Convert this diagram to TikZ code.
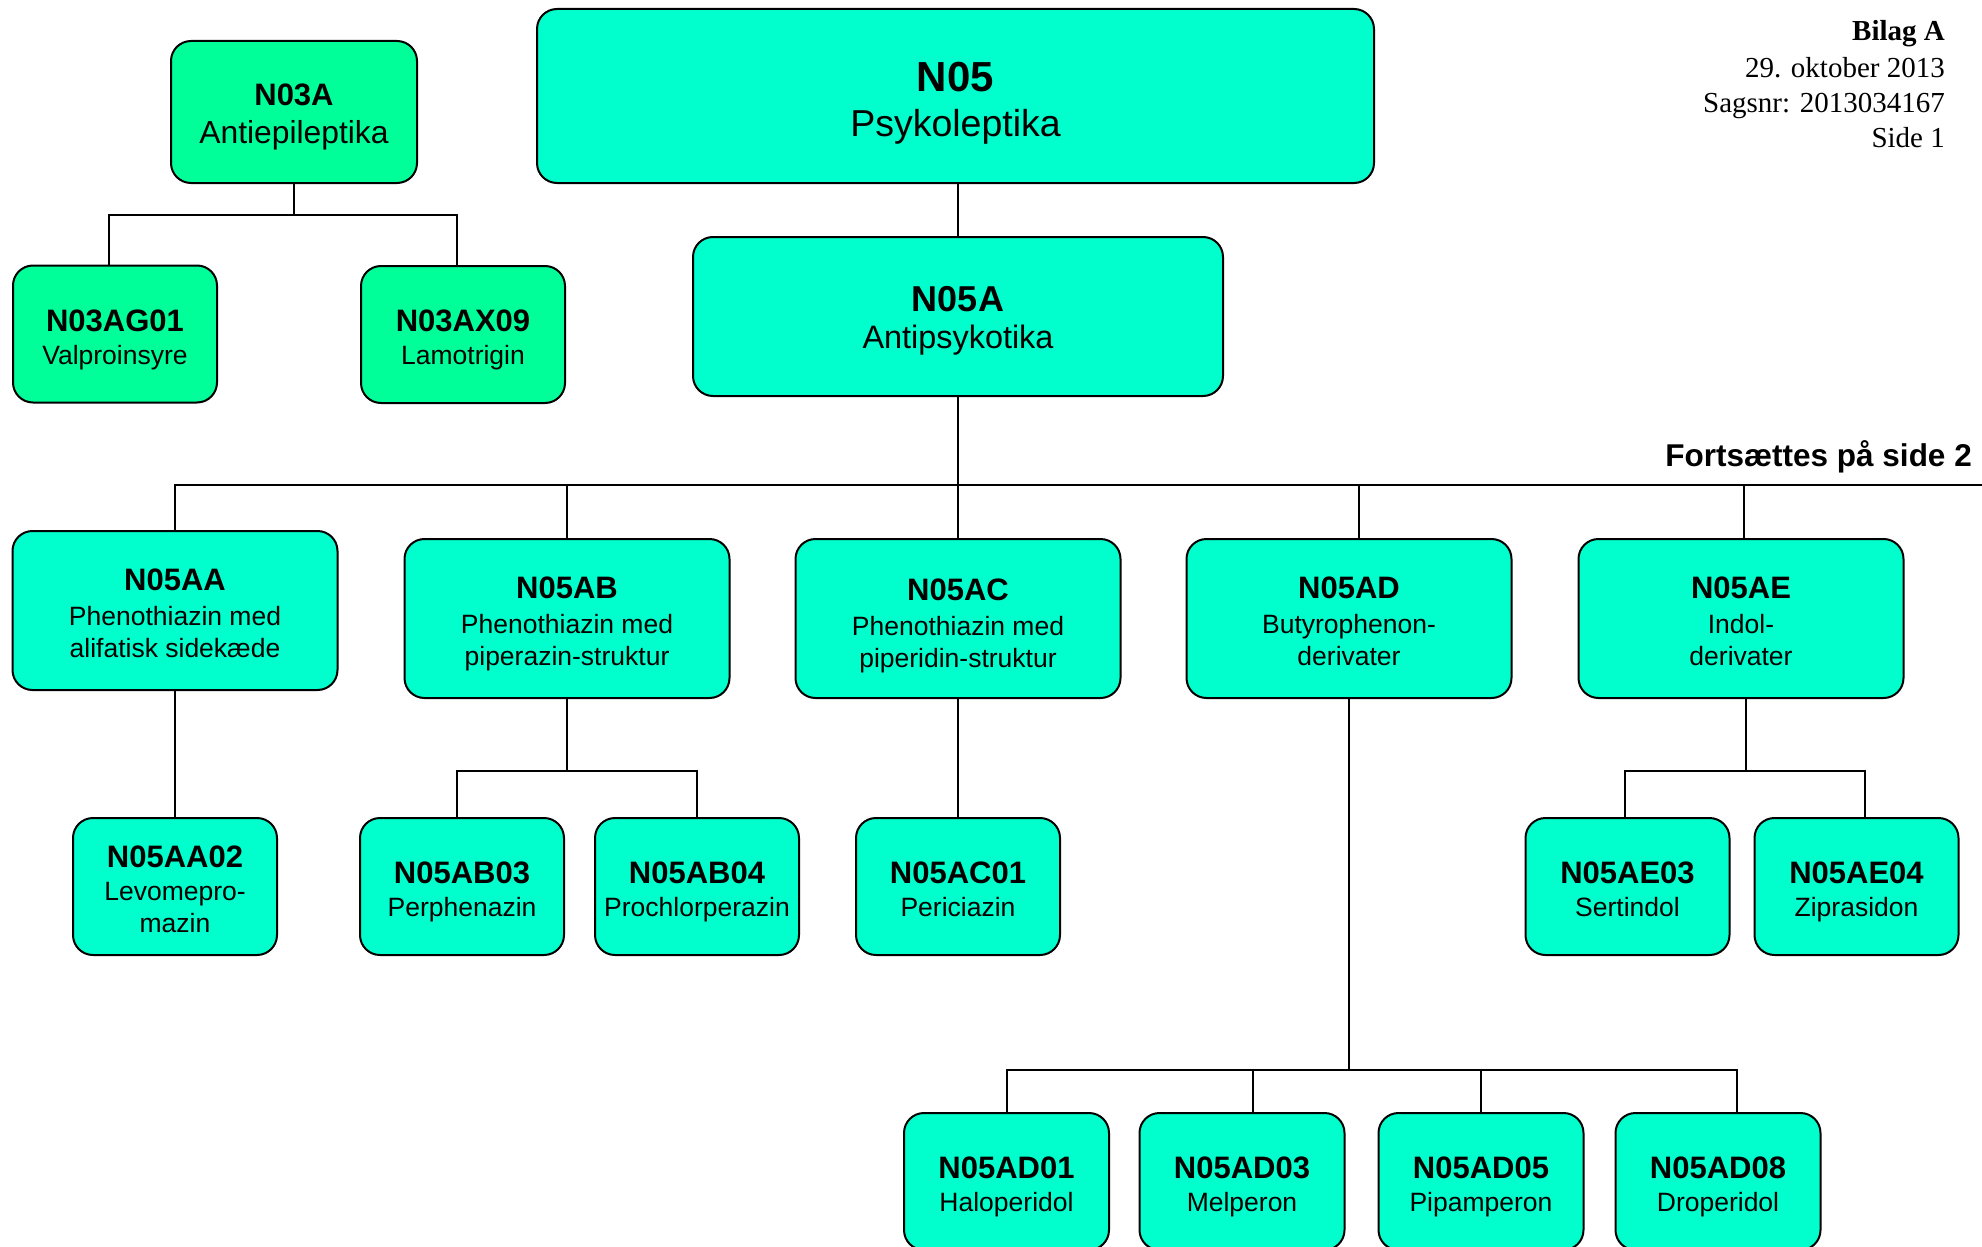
\documentclass[tikz,border=0pt]{standalone}
\usepackage{fontspec}
\setmainfont{Liberation Sans}
\newfontfamily\hdrserif{Liberation Serif}
\definecolor{cyanN}{RGB}{0,255,204}
\definecolor{greenN}{RGB}{0,255,153}
\newcommand\codetxt[2][27pt]{{\bfseries\fontsize{31}{35}\selectfont\rule{0pt}{#1}#2}}
\newcommand\lastln[1]{\raisebox{0pt}[\height][0pt]{#1}}
\tikzset{
  box/.style={draw=black, line width=2pt, rounded corners=20pt, align=center,
              inner sep=0pt, fill=cyanN, font=\fontsize{26.5}{32}\selectfont},
  greenbox/.style={box, fill=greenN},
  leaf/.style={minimum width=204pt, minimum height=137pt},
  midbox/.style={minimum width=325pt, minimum height=159pt},
  conn/.style={line width=2pt},
  hdr/.style={anchor=base east, inner sep=0pt, font=\hdrserif\fontsize{29}{35}\selectfont},
}
\begin{document}
\begin{tikzpicture}[x=1pt,y=-1pt]
\useasboundingbox (0,0) rectangle (1982,1247);
\clip (0,0) rectangle (1982,1247);
\fill[white] (0,0) rectangle (1982,1247);

% header
\node[hdr] (h1) at (1945,41) {\bfseries Bilag A};
\node[hdr] (h2) at (1945,77.5) {29. oktober 2013};
\node[hdr] (h3) at (1945,112.5) {Sagsnr: 2013034167};
\node[hdr] (h4) at (1945,147.5) {Side 1};
\node[anchor=base east, inner sep=0pt, font=\bfseries\fontsize{31.5}{36}\selectfont] (cont) at (1972,466) {Fortsættes på side 2};

% N03 group
\node[box, greenbox, minimum width=246pt, minimum height=142pt, font=\fontsize{31.8}{38}\selectfont] (n03a) at (294,112) {{\bfseries\fontsize{31}{38}\selectfont\rule{0pt}{25.7pt}N03A}\\\lastln{Antiepileptika}};
\node[box, greenbox, leaf] (n03ag01) at (115,334) {\codetxt{N03AG01}\\[1pt]\lastln{Valproinsyre}};
\node[box, greenbox, leaf] (n03ax09) at (463,334.5) {\codetxt{N03AX09}\\[1pt]\lastln{Lamotrigin}};

% N05 top
\node[box, minimum width=837pt, minimum height=174pt, font=\fontsize{37.5}{45}\selectfont] (n05) at (955.5,96) {{\bfseries\fontsize{42}{45}\selectfont\rule{0pt}{35pt}N05}\\\lastln{Psykoleptika}};
\node[box, minimum width=530pt, minimum height=159pt, font=\fontsize{32.4}{37}\selectfont] (n05a) at (958,316.5) {{\bfseries\fontsize{36}{37}\selectfont\rule{0pt}{27.8pt}N05A}\\\lastln{Antipsykotika}};

% row 2
\node[box, midbox] (n05aa) at (175,610.5) {\codetxt{N05AA}\\[3pt]Phenothiazin med\\\lastln{alifatisk sidekæde}};
\node[box, midbox] (n05ab) at (567,618.5) {\codetxt{N05AB}\\[3pt]Phenothiazin med\\\lastln{piperazin-struktur}};
\node[box, midbox] (n05ac) at (958,618.5) {\codetxt[31pt]{N05AC}\\[3pt]Phenothiazin med\\\lastln{piperidin-struktur}};
\node[box, midbox] (n05ad) at (1349,618.5) {\codetxt{N05AD}\\[3pt]Butyrophenon-\\\lastln{derivater}};
\node[box, midbox] (n05ae) at (1741,618.5) {\codetxt{N05AE}\\[3pt]Indol-\\\lastln{derivater}};

% row 3
\node[box, leaf] (n05aa02) at (175,886.5) {\codetxt{N05AA02}\\[1pt]Levomepro-\\\lastln{mazin}};
\node[box, leaf] (n05ab03) at (462,886.5) {\codetxt{N05AB03}\\[1pt]\lastln{Perphenazin}};
\node[box, leaf] (n05ab04) at (697,886.5) {\codetxt{N05AB04}\\[1pt]\lastln{Prochlorperazin}};
\node[box, leaf] (n05ac01) at (958,886.5) {\codetxt{N05AC01}\\[1pt]\lastln{Periciazin}};
\node[box, leaf] (n05ae03) at (1627.5,886.5) {\codetxt{N05AE03}\\[1pt]\lastln{Sertindol}};
\node[box, leaf] (n05ae04) at (1856.5,886.5) {\codetxt{N05AE04}\\[1pt]\lastln{Ziprasidon}};

% row 4
\node[box, leaf, minimum width=205pt] (n05ad01) at (1006.5,1181.5) {\codetxt{N05AD01}\\[1pt]\lastln{Haloperidol}};
\node[box, leaf, minimum width=205pt] (n05ad03) at (1242,1181.5) {\codetxt{N05AD03}\\[1pt]\lastln{Melperon}};
\node[box, leaf, minimum width=205pt] (n05ad05) at (1481,1181.5) {\codetxt{N05AD05}\\[1pt]\lastln{Pipamperon}};
\node[box, leaf, minimum width=205pt] (n05ad08) at (1718,1181.5) {\codetxt{N05AD08}\\[1pt]\lastln{Droperidol}};

% helper coordinates
\coordinate (gbus) at (0,215);
\coordinate (busR) at (1982,485);
\coordinate (abbus) at (0,771);
\coordinate (aebus) at (0,771);
\coordinate (adbus) at (0,1070);
\coordinate (g1top) at ([xshift=-6pt]n03ag01.north);
\coordinate (g2top) at ([xshift=-6pt]n03ax09.north);
\coordinate (adtop) at ([xshift=10pt]n05ad.north);
\coordinate (aetop) at ([xshift=3pt]n05ae.north);
\coordinate (aesouth) at ([xshift=5pt]n05ae.south);
\coordinate (b3top) at ([xshift=-5pt]n05ab03.north);
\coordinate (e3top) at ([xshift=-3pt]n05ae03.north);
\coordinate (e4top) at ([xshift=8pt]n05ae04.north);
\coordinate (d3top) at ([xshift=11pt]n05ad03.north);
\coordinate (d8top) at ([xshift=19pt]n05ad08.north);

% connectors
\draw[conn] (n03a.south) -- (n03a.south |- gbus);
\draw[conn] (g1top) |- (g2top |- gbus) -- (g2top);

\draw[conn] (n05a.north |- n05.south) -- (n05a.north);
\draw[conn] (n05a.south) -- (n05ac.north);
\draw[conn] (n05aa.north) |- (busR);
\draw[conn] (n05ab.north) -- (n05ab.north |- busR);
\draw[conn] (adtop) -- (adtop |- busR);
\draw[conn] (aetop) -- (aetop |- busR);

\draw[conn] (n05aa.south) -- (n05aa02.north);
\draw[conn] (n05ab.south) -- (n05ab.south |- abbus);
\draw[conn] (b3top) |- (n05ab04.north |- abbus) -- (n05ab04.north);
\draw[conn] (n05ac.south) -- (n05ac01.north);
\draw[conn] (aesouth) -- (aesouth |- aebus);
\draw[conn] (e3top) |- (e4top |- aebus) -- (e4top);

\draw[conn] (n05ad.south) -- (n05ad.south |- adbus);
\draw[conn] (n05ad01.north) |- (d8top |- adbus) -- (d8top);
\draw[conn] (d3top) -- (d3top |- adbus);
\draw[conn] (n05ad05.north) -- (n05ad05.north |- adbus);
\end{tikzpicture}
\end{document}
